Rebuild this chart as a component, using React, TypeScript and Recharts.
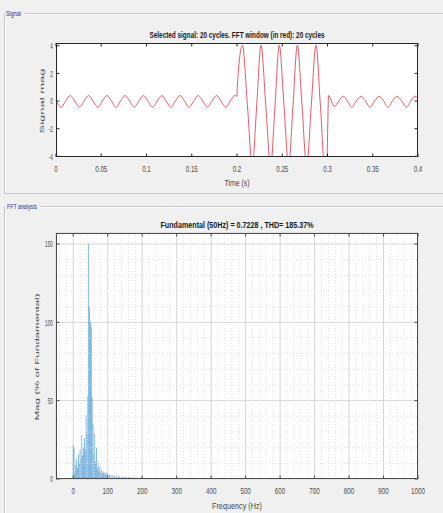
import React from 'react';
import {
  LineChart,
  Line,
  ComposedChart,
  Bar,
  XAxis,
  YAxis,
  CartesianGrid,
  ReferenceLine,
} from 'recharts';

// ---- Signal trace (time in s, magnitude) ----
const sigTime = [
  0, 0.0057, 0.0107, 0.0158, 0.0208, 0.0259, 0.031, 0.036, 0.041, 0.0461,
  0.0512, 0.0562, 0.0612, 0.0663, 0.0714, 0.0764, 0.0814, 0.0865, 0.0916, 0.0966,
  0.1016, 0.1067, 0.1118, 0.1168, 0.1218, 0.1269, 0.132, 0.137, 0.142, 0.1471,
  0.1522, 0.1572, 0.1622, 0.1673, 0.1724, 0.1774, 0.1824, 0.1875, 0.1926, 0.1976,
  0.2, 0.2004, 0.206, 0.2115, 0.2169, 0.2218, 0.2265, 0.2318, 0.2372, 0.242,
  0.2467, 0.2519, 0.2571, 0.2619, 0.2667, 0.2718, 0.277, 0.2821, 0.2873, 0.2921,
  0.2969, 0.2995, 0.3012, 0.3075, 0.3125, 0.3175, 0.322, 0.3267, 0.3318, 0.337,
  0.342, 0.347, 0.352, 0.357, 0.362, 0.367, 0.3718, 0.3765, 0.382, 0.3875,
  0.392, 0.3967, 0.4,
];
const sigValue = [
  0.05, -0.45, 0, 0.4, 0, -0.45, 0, 0.4, 0, -0.45,
  0, 0.4, 0, -0.45, 0, 0.4, 0, -0.45, 0, 0.4,
  0, -0.45, 0, 0.4, 0, -0.45, 0, 0.4, 0, -0.45,
  0, 0.4, 0, -0.45, 0, 0.4, 0, -0.45, 0, 0.4,
  0.35, 1.1, 4.05, -0.3, -4.7, -0.3, 4.05, -0.3, -4.7, -0.3,
  4.05, -0.3, -4.7, -0.3, 4.05, -0.3, -4.7, -0.3, 4.05, -0.3,
  -4.7, -3.9, 0.4, -0.4, 0, 0.35, 0, -0.45, 0, 0.35,
  0, -0.45, 0, 0.35, 0, -0.45, 0, 0.35, 0, -0.45,
  0, 0.35, 0.3,
];
const timeTicks = [0, 0.05, 0.1, 0.15, 0.2, 0.25, 0.3, 0.35, 0.4];
const signalTicks = [-4, -2, 0, 2, 4];

// ---- FFT spectrum (Hz, % of fundamental) ----
const fftFreq = [
  0, 2.5, 5, 7.5, 10, 12.5, 15, 17.5, 20, 22.5,
  25, 27.5, 30, 32.5, 35, 37.5, 40, 42.5, 45, 47.5,
  50, 52.5, 55, 57.5, 60, 62.5, 65, 67.5, 70, 72.5,
  75, 77.5, 80, 82.5, 85, 87.5, 90, 92.5, 95, 97.5,
  100, 105, 110, 115, 120, 125, 130, 135, 140, 145,
  150, 155, 160, 165, 170, 175, 180, 185, 190, 195,
  200, 210, 220, 230, 240, 250, 260, 270, 280, 290,
  300, 310, 320, 330, 340, 350, 360, 370, 380,
];
const fftMag = [
  21.5, 20, 4, 9, 13, 7, 16, 10, 19, 13,
  28, 15, 20, 26, 18, 41, 30, 53, 150, 110,
  100, 97, 52, 35, 16, 29, 11, 20, 7, 11,
  5, 8, 4, 6, 3.5, 5, 3, 4.5, 2.5, 4,
  3, 3, 2.5, 2.5, 2, 2.2, 1.8, 1.9, 1.5, 1.6,
  1.3, 1.4, 1.2, 1.2, 1, 1.1, 0.9, 1, 0.8, 0.9,
  0.8, 0.7, 0.7, 0.6, 0.6, 0.5, 0.5, 0.5, 0.4, 0.4,
  0.4, 0.35, 0.35, 0.3, 0.3, 0.3, 0.25, 0.25, 0.2,
];
const freqTicks = [0, 100, 200, 300, 400, 500, 600, 700, 800, 900, 1000];
const magTicks = [0, 50, 100, 150];
const freqMinor = [
  -40, -20, 20, 40, 60, 80, 120, 140, 160, 180, 220, 240, 260, 280, 320, 340, 360, 380,
  420, 440, 460, 480, 520, 540, 560, 580, 620, 640, 660, 680, 720, 740, 760, 780,
  820, 840, 860, 880, 920, 940, 960, 980,
];
const magMinor = [10, 20, 30, 40, 60, 70, 80, 90, 110, 120, 130, 140];

const signalData = sigTime.map((t, i) => ({ t, v: sigValue[i] }));
const fftData = fftFreq.map((f, i) => ({ f, mag: fftMag[i] }));

const FONT = '"Liberation Sans", Arial, Helvetica, sans-serif';
const TICK_TEXT = '#4d4d4d';

// plot boxes (chart-local coordinates)
const P1 = { left: 56, top: 43, width: 362, height: 114 };
const P2 = { left: 56, top: 38, width: 362, height: 246 };

function makeXTick(top: number, bottom: number, mark: string) {
  return (props: any) => {
    const { x, payload } = props;
    return (
      <g>
        <line x1={x} x2={x} y1={bottom} y2={bottom - 3.5} stroke={mark} strokeWidth={1} />
        <line x1={x} x2={x} y1={top} y2={top + 3.5} stroke={mark} strokeWidth={1} />
        <text
          transform={`translate(${x},${bottom + 14.5}) scale(0.66,1)`}
          textAnchor="middle"
          fontSize={9.5}
          fontFamily={FONT}
          fill={TICK_TEXT}
        >
          {String(payload.value)}
        </text>
      </g>
    );
  };
}

function makeYTick(left: number, right: number, mark: string) {
  return (props: any) => {
    const { y, payload } = props;
    return (
      <g>
        <line x1={left} x2={left + 3.5} y1={y} y2={y} stroke={mark} strokeWidth={1} />
        <line x1={right} x2={right - 3.5} y1={y} y2={y} stroke={mark} strokeWidth={1} />
        <text
          transform={`translate(${left - 3},${y + 3.3}) scale(0.5,1)`}
          textAnchor="end"
          fontSize={9.5}
          fontFamily={FONT}
          fill={TICK_TEXT}
        >
          {String(payload.value)}
        </text>
      </g>
    );
  };
}

type LabelProps = {
  x: number;
  y: number;
  w: number;
  size?: number;
  weight?: number;
  fill?: string;
  rotate?: boolean;
  squeeze?: number;
  anchor?: 'start' | 'middle';
  children: string;
};

function Caption({ x, y, w, size = 9.5, weight = 400, fill = '#333', rotate = false, squeeze = 0.6, anchor = 'middle', children }: LabelProps) {
  if (rotate) {
    return (
      <text
        transform={`translate(${x},${y}) scale(${squeeze},1) rotate(-90)`}
        textAnchor="middle"
        dominantBaseline="central"
        fontSize={size}
        fontWeight={weight}
        fontFamily={FONT}
        fill={fill}
        textLength={w}
        lengthAdjust="spacingAndGlyphs"
      >
        {children}
      </text>
    );
  }
  return (
    <text
      x={x}
      y={y}
      textAnchor={anchor}
      dominantBaseline="central"
      fontSize={size}
      fontWeight={weight}
      fontFamily={FONT}
      fill={fill}
      textLength={w}
      lengthAdjust="spacingAndGlyphs"
    >
      {children}
    </text>
  );
}

export default function App() {
  const boxDark = '#262626';
  const boxGray = '#4a4a4a';
  return (
    <div
      style={{
        position: 'absolute',
        left: 0,
        top: 0,
        width: 443,
        height: 513,
        overflow: 'hidden',
        background: '#f0f0f0',
        fontFamily: FONT,
      }}
    >
      {/* group boxes */}
      <div style={{ position: 'absolute', left: 4, top: 13, width: 470, height: 179, border: '1px solid #c6c6c6', boxShadow: 'inset 1px 1px 0 #fff' }} />
      <div style={{ position: 'absolute', left: 4, top: 206, width: 470, height: 330, border: '1px solid #c6c6c6', boxShadow: 'inset 1px 1px 0 #fff' }} />

      {/* signal plot */}
      <div style={{ position: 'absolute', left: 0, top: 0 }}>
        <LineChart width={443} height={195} data={signalData} margin={{ top: P1.top, right: 443 - P1.left - P1.width, bottom: 0, left: 0 }}>
          <CartesianGrid horizontal={false} vertical={false} fill="#ffffff" />
          <XAxis
            dataKey="t"
            type="number"
            domain={[0, 0.4]}
            ticks={timeTicks}
            interval={0}
            height={195 - P1.top - P1.height}
            axisLine={false}
            tickLine={false}
            tickSize={0}
            tickMargin={0}
            tick={makeXTick(P1.top, P1.top + P1.height, boxDark)}
          />
          <YAxis
            type="number"
            domain={[-4.05, 4.2]}
            allowDataOverflow
            ticks={signalTicks}
            interval={0}
            width={P1.left}
            axisLine={false}
            tickLine={false}
            tickSize={0}
            tickMargin={0}
            tick={makeYTick(P1.left, P1.left + P1.width, boxDark)}
          />
          <Line
            type="monotone"
            dataKey="v"
            stroke="#e65a66"
            strokeWidth={1}
            dot={false}
            isAnimationActive={false}
          />
        </LineChart>
      </div>
      <div style={{ position: 'absolute', left: P1.left, top: P1.top, width: P1.width, height: P1.height, border: `1px solid ${boxDark}`, boxSizing: 'border-box', pointerEvents: 'none' }} />

      {/* FFT plot */}
      <div style={{ position: 'absolute', left: 0, top: 195 }}>
        <ComposedChart width={443} height={318} data={fftData} margin={{ top: P2.top, right: 443 - P2.left - P2.width, bottom: 0, left: 0 }}>
          <CartesianGrid stroke="#d6d6d6" strokeWidth={1} fill="#ffffff" />
          <XAxis
            dataKey="f"
            type="number"
            domain={[-50, 1000]}
            ticks={freqTicks}
            interval={0}
            height={318 - P2.top - P2.height}
            axisLine={false}
            tickLine={false}
            tickSize={0}
            tickMargin={0}
            tick={makeXTick(P2.top, P2.top + P2.height, boxGray)}
          />
          <YAxis
            type="number"
            domain={[0, 157]}
            ticks={magTicks}
            interval={0}
            width={P2.left}
            axisLine={false}
            tickLine={false}
            tickSize={0}
            tickMargin={0}
            tick={makeYTick(P2.left, P2.left + P2.width, boxGray)}
          />
          {freqMinor.map((v) => (
            <ReferenceLine key={`fx${v}`} x={v} stroke="#dedede" strokeDasharray="1 2" strokeWidth={1} />
          ))}
          {magMinor.map((v) => (
            <ReferenceLine key={`my${v}`} y={v} stroke="#dedede" strokeDasharray="1 2" strokeWidth={1} />
          ))}
          <Bar dataKey="mag" fill="#62a6d8" barSize={1} isAnimationActive={false} />
        </ComposedChart>
      </div>
      <div style={{ position: 'absolute', left: P2.left, top: 195 + P2.top, width: P2.width, height: P2.height, border: `1px solid ${boxGray}`, boxSizing: 'border-box', pointerEvents: 'none' }} />

      {/* titles, axis labels and panel captions */}
      <svg width={443} height={513} style={{ position: 'absolute', left: 0, top: 0, pointerEvents: 'none' }}>
        <rect x={5} y={8} width={19} height={10} fill="#f0f0f0" />
        <Caption x={6} y={13} w={15} size={8} fill="#2a2aa0" anchor="start">Signal</Caption>
        <rect x={5} y={201} width={35} height={10} fill="#f0f0f0" />
        <Caption x={7} y={206} w={30} size={8} fill="#2a2aa0" anchor="start">FFT analysis</Caption>

        <Caption x={237} y={34} w={175} size={9.5} weight={700} fill="#1a1a1a">
          Selected signal: 20 cycles. FFT window (in red): 20 cycles
        </Caption>
        <Caption x={237} y={182} w={25} size={9.5} fill="#444">Time (s)</Caption>
        <Caption x={42} y={101} w={65} size={10} fill="#444" rotate>Signal mag</Caption>

        <Caption x={237} y={224} w={153} size={9.5} weight={700} fill="#1a1a1a">
          Fundamental (50Hz) = 0.7228 , THD= 185.37%
        </Caption>
        <Caption x={237} y={505} w={50} size={9.5} fill="#444">Frequency (Hz)</Caption>
        <Caption x={37} y={357} w={127} size={10} fill="#444" rotate>Mag (% of Fundamental)</Caption>
      </svg>
    </div>
  );
}
